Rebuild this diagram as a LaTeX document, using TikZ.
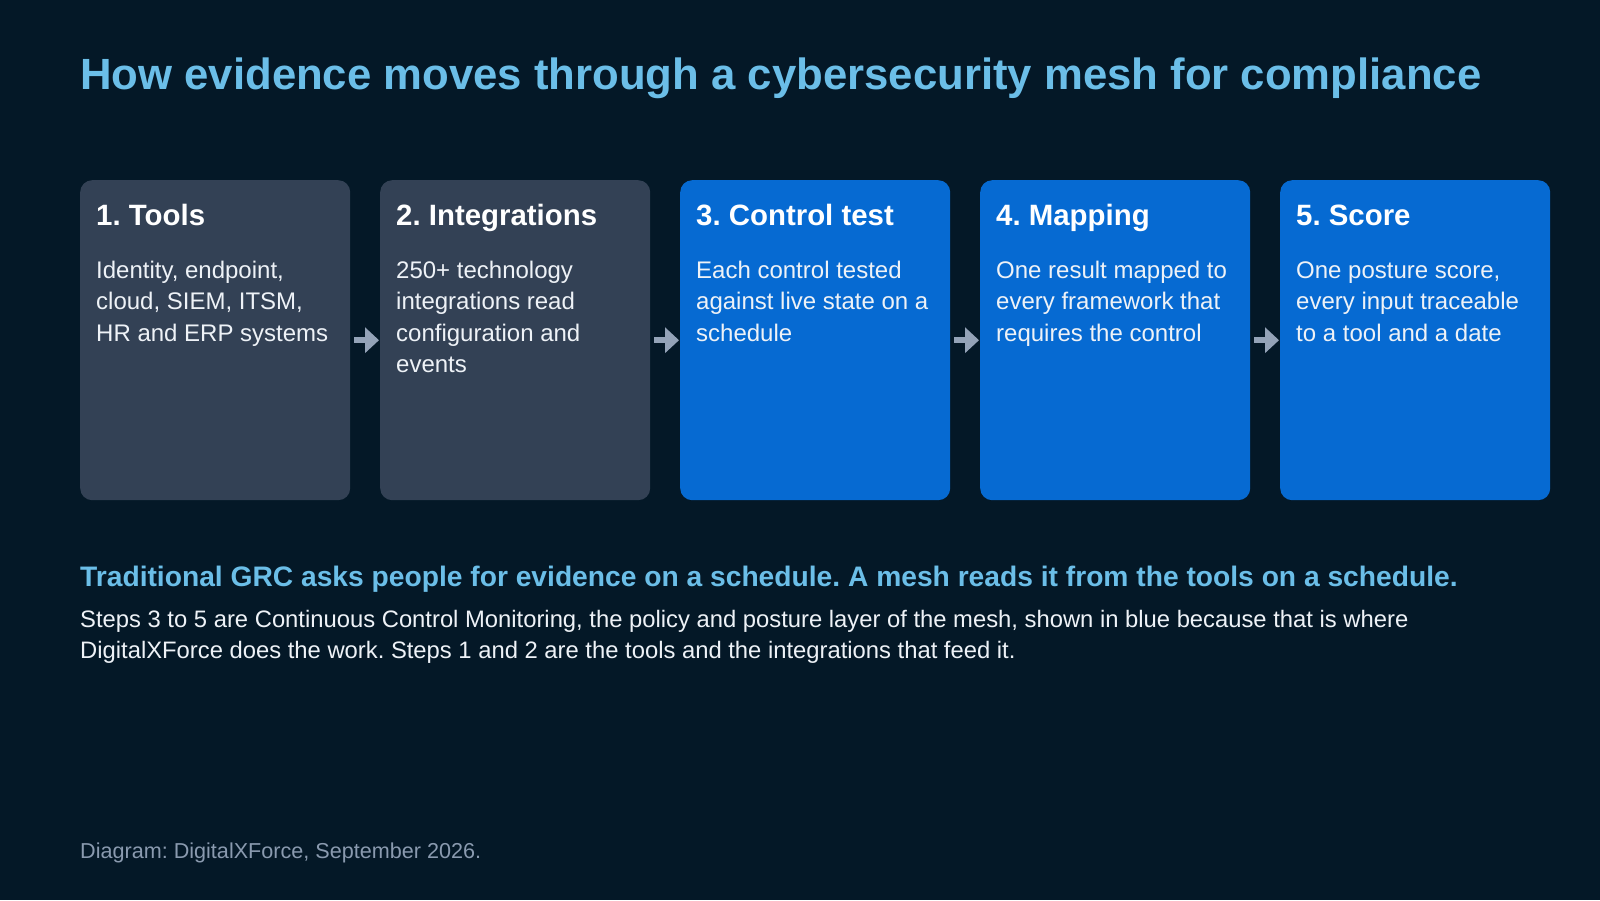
\documentclass[tikz,border=0pt]{standalone}
\usepackage{fontspec}
\setmainfont{Liberation Sans}
\usetikzlibrary{arrows.meta}
\frenchspacing
\definecolor{bg}{HTML}{041827}
\definecolor{titleblue}{HTML}{6BBEE8}
\definecolor{slatebox}{HTML}{334155}
\definecolor{meshblue}{HTML}{066AD2}
\definecolor{arrowgray}{HTML}{94A3B8}
\definecolor{bodywhite}{HTML}{EEF2F7}
\definecolor{footgray}{HTML}{8A9AAF}
\tikzset{
  head/.style = {anchor=base west, inner sep=0, text=white, font=\fontsize{29.4}{34}\selectfont\bfseries},
  body/.style = {anchor=base west, inner sep=0, align=left, text=bodywhite, font=\fontsize{24}{31.6}\selectfont},
  flow/.style = {draw=arrowgray, line width=6pt, -{Triangle[width=25pt,length=14pt]}, shorten <=4pt, shorten >=1pt}
}
\begin{document}
\begin{tikzpicture}[x=1pt,y=1pt]
            \useasboundingbox[fill=bg] (0,0) rectangle (1600,-900);
            \node[anchor=base west, inner sep=0, text=titleblue, font=\fontsize{43.7}{50}\selectfont\bfseries] (title) at (80,-89) {How evidence moves through a cybersecurity mesh for compliance};

            \begin{scope}[every node/.style = {rounded corners=12pt, minimum width=270pt, minimum height=320pt, anchor=north west, inner sep=0}]
                \node[fill=slatebox](1) at (80,-180) {};
                \node[fill=slatebox](2) at (380,-180) {};
                \node[fill=meshblue](3) at (680,-180) {};
                \node[fill=meshblue](4) at (980,-180) {};
                \node[fill=meshblue](5) at (1280,-180) {};
            \end{scope}

            \node[head] (h1) at ([shift={(16,-45)}]1.north west) {1. Tools};
            \node[head] (h2) at ([shift={(16,-45)}]2.north west) {2. Integrations};
            \node[head] (h3) at ([shift={(16,-45)}]3.north west) {3. Control test};
            \node[head] (h4) at ([shift={(16,-45)}]4.north west) {4. Mapping};
            \node[head] (h5) at ([shift={(16,-45)}]5.north west) {5. Score};

            % base anchor sits on the last line
            \node[body] (b1) at ([shift={(16,-161.2)}]1.north west) {Identity, endpoint,\\cloud, SIEM, ITSM,\\HR and ERP systems};
            \node[body] (b2) at ([shift={(16,-192.8)}]2.north west) {250+ technology\\integrations read\\configuration and\\events};
            \node[body] (b3) at ([shift={(16,-161.2)}]3.north west) {Each control tested\\against live state on a\\schedule};
            \node[body] (b4) at ([shift={(16,-161.2)}]4.north west) {One result mapped to\\every framework that\\requires the control};
            \node[body] (b5) at ([shift={(16,-161.2)}]5.north west) {One posture score,\\every input traceable\\to a tool and a date};

            \begin{scope}[every edge/.style = {flow}]
                \path(1) edge[] (2);
                \path(2) edge[] (3);
                \path(3) edge[] (4);
                \path(4) edge[] (5);
            \end{scope}

            \node[anchor=base west, inner sep=0, text=titleblue, font=\fontsize{28.2}{32}\selectfont\bfseries] (lead) at (80,-586) {Traditional GRC asks people for evidence on a schedule. A mesh reads it from the tools on a schedule.};
            \node[body, font=\fontsize{23.8}{31}\selectfont] (note) at (80,-658) {Steps 3 to 5 are Continuous Control Monitoring, the policy and posture layer of the mesh, shown in blue because that is where\\DigitalXForce does the work. Steps 1 and 2 are the tools and the integrations that feed it.};
            \node[anchor=base west, inner sep=0, text=footgray, font=\fontsize{21.6}{25}\selectfont] (foot) at (80,-858) {Diagram: DigitalXForce, September 2026.};
\end{tikzpicture}
\end{document}
